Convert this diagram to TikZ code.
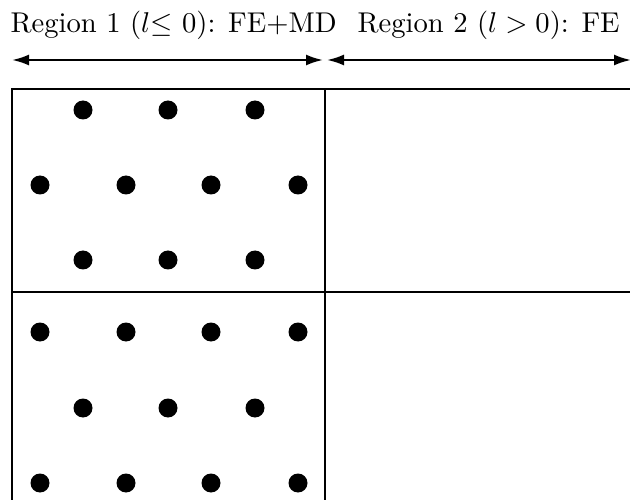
\documentclass[tikz,border=0pt]{standalone}
\usetikzlibrary{arrows.meta}
\begin{document}
\begin{tikzpicture}[x=1pt,y=-1pt,
  lbl/.style={font=\fontsize{10}{12}\selectfont, scale=2.86, inner sep=0pt, anchor=base west},
  frame/.style={line width=2.5pt, black},
  dimarrow/.style={line width=2.2pt, {Latex[length=17pt,width=11pt]}-{Latex[length=17pt,width=11pt]}},
  atom/.style={fill=black, circle, minimum size=19pt, inner sep=0pt}]
\useasboundingbox (0,0) rectangle (630,500);
% labels
\node[lbl] (t1) at (10,33) {Region 1 ($l$$\leq$ 0): FE+MD};
\node[lbl] (t2) at (357,33) {Region 2 ($l > 0$): FE};
% arrows
\coordinate (a1) at (12,60);
\coordinate (a2) at (323,60);
\coordinate (b1) at (327,60);
\coordinate (b2) at (631,60);
\draw[dimarrow] (a1) -- (a2);
\draw[dimarrow] (b1) -- (b2);
% frame
\draw[frame] (12,520) -- (12,89) -- (650,89);
\draw[frame] (325,89) -- (325,520);
\draw[frame] (12,292) -- (650,292);
% atoms
\foreach \y in {110,260,408} {
  \foreach \x in {83,168,255} { \node[atom] at (\x,\y) {}; }
}
\foreach \y in {185,332,483} {
  \foreach \x in {40,126,211,298} { \node[atom] at (\x,\y) {}; }
}
\end{tikzpicture}
\end{document}
